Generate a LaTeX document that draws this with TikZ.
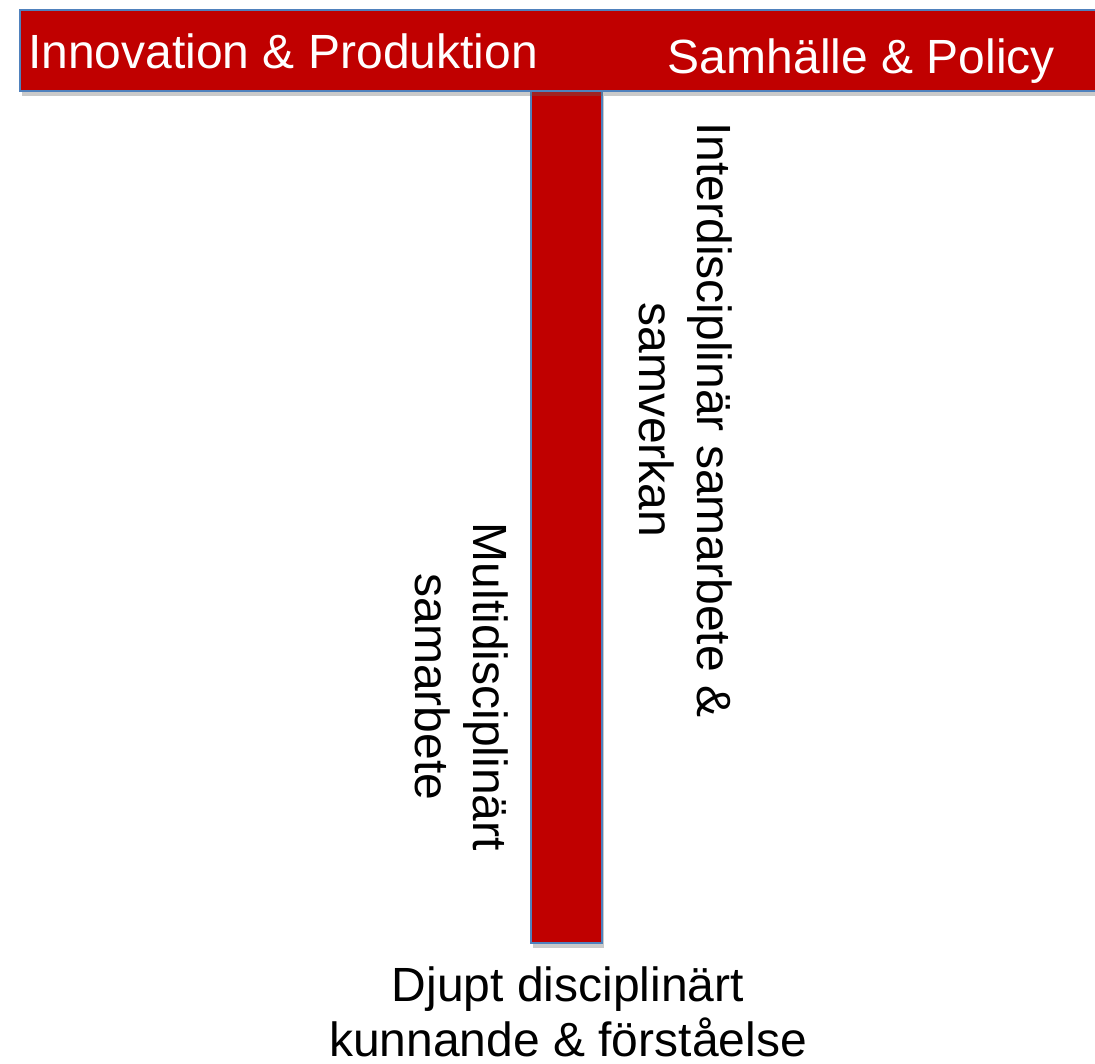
\documentclass[tikz,border=0pt]{standalone}
\usepackage{fontspec}
\setmainfont{Liberation Sans}
\usetikzlibrary{shadows}
\definecolor{barred}{HTML}{C00000}
\definecolor{barblue}{HTML}{4F81BD}
\begin{document}
\begin{tikzpicture}[x=1pt,y=-1pt,
  bar/.style={fill=barred,draw=barblue,line width=1.5pt,
    drop shadow={shadow xshift=2pt,shadow yshift=-5pt,opacity=0.35,fill=black!60}},
  lbl/.style={font=\fontsize{48}{58}\selectfont,inner sep=0pt,align=center}]
\useasboundingbox (0,0) rectangle (1095,1064);
\path[bar] (531,91) rectangle (602,943);
\path[bar] (20,10) rectangle (1120,91);
\node[lbl,text=white,anchor=base west] (ip) at (28,69) {Innovation \& Produktion};
\node[lbl,text=white,anchor=base east] (sp) at (1055,74) {Samhälle \& Policy};
\node[lbl,rotate=-90] (inter) at (686,420) {Interdisciplinär samarbete \&\\samverkan};
\node[lbl,rotate=-90] (multi) at (462,687) {Multidisciplinärt\\samarbete};
\node[lbl,font=\fontsize{48}{55}\selectfont] (djupt) at (568,1012) {Djupt disciplinärt\\kunnande \& förståelse};
\end{tikzpicture}
\end{document}
